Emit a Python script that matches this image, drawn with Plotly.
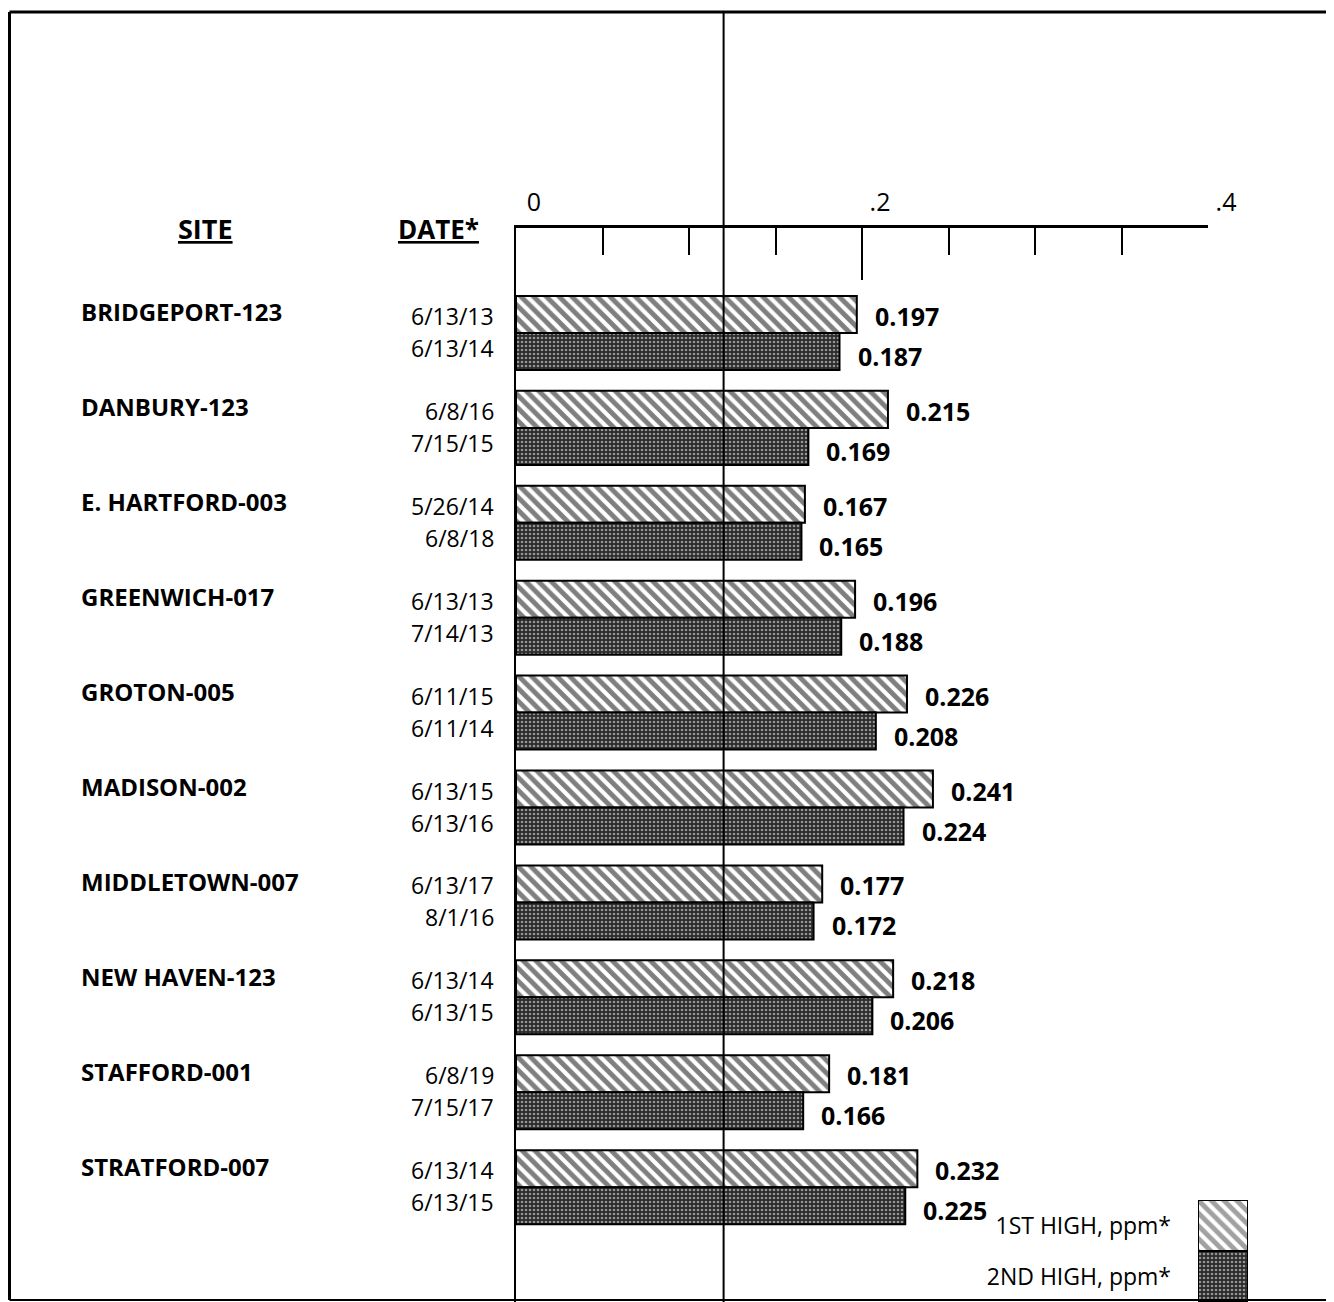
import plotly.graph_objects as go

sites = ["BRIDGEPORT-123", "DANBURY-123", "E. HARTFORD-003", "GREENWICH-017",
         "GROTON-005", "MADISON-002", "MIDDLETOWN-007", "NEW HAVEN-123",
         "STAFFORD-001", "STRATFORD-007"]
dates_1st = ["6/13/13", "6/8/16", "5/26/14", "6/13/13", "6/11/15",
             "6/13/15", "6/13/17", "6/13/14", "6/8/19", "6/13/14"]
dates_2nd = ["6/13/14", "7/15/15", "6/8/18", "7/14/13", "6/11/14",
             "6/13/16", "8/1/16", "6/13/15", "7/15/17", "6/13/15"]
high_1st = [0.197, 0.215, 0.167, 0.196, 0.226, 0.241, 0.177, 0.218, 0.181, 0.232]
high_2nd = [0.187, 0.169, 0.165, 0.188, 0.208, 0.224, 0.172, 0.206, 0.166, 0.225]
standard = 0.12
tick_vals = [0, 0.2, 0.4]
tick_text = ["0", ".2", ".4"]
legend_labels = ["1ST HIGH, ppm*", "2ND HIGH, ppm*"]

# the page has an 8px body margin; size the figure so it ends at the window edge
OFF = 8
W, H = 1334 - OFF, 1302 - OFF
FONT = "Open Sans"

def px(x):
    return (x - OFF) / W

def py(y):
    return 1 - (y - OFF) / H

DARK = "#2b2b2b"
hatch = dict(shape="\\", size=9, solidity=0.55, fgcolor="black", bgcolor="white")
stipple = dict(shape=".", size=4, solidity=0.35, fgcolor="white", bgcolor=DARK)

fig = go.Figure()
fig.add_trace(go.Bar(
    y=sites, x=high_1st, orientation="h", name=legend_labels[0],
    marker=dict(color="white", pattern=hatch, line=dict(color="black", width=2)),
    xaxis="x", yaxis="y",
))
fig.add_trace(go.Bar(
    y=sites, x=high_2nd, orientation="h", name=legend_labels[1],
    marker=dict(color=DARK, pattern=stipple, line=dict(color="black", width=2)),
    xaxis="x", yaxis="y",
))

# legend swatch subplot
fig.add_trace(go.Bar(
    y=legend_labels, x=[1, 1], orientation="h", width=1,
    marker=dict(
        color=["white", DARK],
        pattern=dict(shape=["\\", "."], size=[9, 4], solidity=[0.55, 0.35],
                     fgcolor=["black", "white"], bgcolor=["white", DARK]),
        line=dict(color="black", width=2)),
    xaxis="x2", yaxis="y2", showlegend=False,
))

annotations = []
for i, s in enumerate(sites):
    annotations.append(dict(text=f"<b>{s}</b>", xref="paper", x=px(79), xanchor="left",
                            yref="y", y=s, yshift=21, showarrow=False,
                            font=dict(family=FONT, size=24, color="black")))
    annotations.append(dict(text=dates_1st[i], xref="paper", x=px(496), xanchor="right",
                            yref="y", y=s, yshift=17, showarrow=False,
                            font=dict(family=FONT, size=23, color="black")))
    annotations.append(dict(text=dates_2nd[i], xref="paper", x=px(496), xanchor="right",
                            yref="y", y=s, yshift=-15, showarrow=False,
                            font=dict(family=FONT, size=23, color="black")))
    annotations.append(dict(text=f"<b>{high_1st[i]:.3f}</b>", xref="x", x=high_1st[i],
                            xanchor="left", xshift=16, yref="y", y=s, yshift=17,
                            showarrow=False, font=dict(family=FONT, size=25, color="black")))
    annotations.append(dict(text=f"<b>{high_2nd[i]:.3f}</b>", xref="x", x=high_2nd[i],
                            xanchor="left", xshift=16, yref="y", y=s, yshift=-23,
                            showarrow=False, font=dict(family=FONT, size=25, color="black")))

annotations.append(dict(text="<b>SITE</b>", xref="paper", x=px(205), xanchor="center",
                        yref="paper", y=py(229), yanchor="middle",
                        showarrow=False, font=dict(family=FONT, size=27, color="black",
                                                   lineposition="under")))
annotations.append(dict(text="<b>DATE*</b>", xref="paper", x=px(438), xanchor="center",
                        yref="paper", y=py(229), yanchor="middle",
                        showarrow=False, font=dict(family=FONT, size=26, color="black",
                                                   lineposition="under")))

shapes = [
    # reference standard line
    dict(type="line", xref="x", x0=standard, x1=standard, yref="paper",
         y0=0, y1=py(12), line=dict(color="black", width=2)),
    # page frame
    dict(type="line", xref="paper", x0=px(9.5), x1=1.02, yref="paper", y0=py(12), y1=py(12),
         line=dict(color="black", width=3)),
    dict(type="line", xref="paper", x0=px(9.5), x1=px(9.5), yref="paper", y0=py(1300), y1=py(12),
         line=dict(color="black", width=3)),
    dict(type="line", xref="paper", x0=px(9.5), x1=1.02, yref="paper", y0=py(1300), y1=py(1300),
         line=dict(color="black", width=2)),
]

fig.update_layout(
    width=W, height=H,
    margin=dict(l=0, r=0, t=0, b=0, autoexpand=False),
    paper_bgcolor="white", plot_bgcolor="white",
    barmode="group", bargap=0.22, bargroupgap=0,
    showlegend=False,
    font=dict(family=FONT, color="black"),
    xaxis=dict(
        domain=[px(516), px(1208)], range=[0, 0.4], side="top",
        showgrid=False, zeroline=False, showline=True, linecolor="black", linewidth=3,
        tickmode="array", tickvals=tick_vals, ticktext=tick_text,
        ticks="inside", ticklen=52, tickwidth=2, tickcolor="black",
        ticklabelshift=18, ticklabelstandoff=4,
        tickfont=dict(family=FONT, size=25, color="black"),
        minor=dict(dtick=0.05, tick0=0, ticks="inside", ticklen=27, tickwidth=2,
                   tickcolor="black", showgrid=False),
        fixedrange=True,
    ),
    yaxis=dict(
        domain=[0, py(228)], type="category", categoryorder="array", categoryarray=sites,
        range=[10.21, -1.106], showgrid=False, zeroline=False,
        showline=True, linecolor="black", linewidth=2, showticklabels=False, ticks="",
    ),
    xaxis2=dict(domain=[px(1198), px(1248)], range=[0, 1], anchor="y2",
                showgrid=False, zeroline=False, showticklabels=False, ticks="", showline=False),
    yaxis2=dict(domain=[0, py(1200)], anchor="x2", type="category",
                categoryorder="array", categoryarray=legend_labels,
                range=[1.5, -0.5], showgrid=False, zeroline=False, showline=False, ticks="",
                ticklabelstandoff=26,
                tickfont=dict(family=FONT, size=23, color="black")),
    annotations=annotations,
    shapes=shapes,
)

fig.write_html("out.html")
